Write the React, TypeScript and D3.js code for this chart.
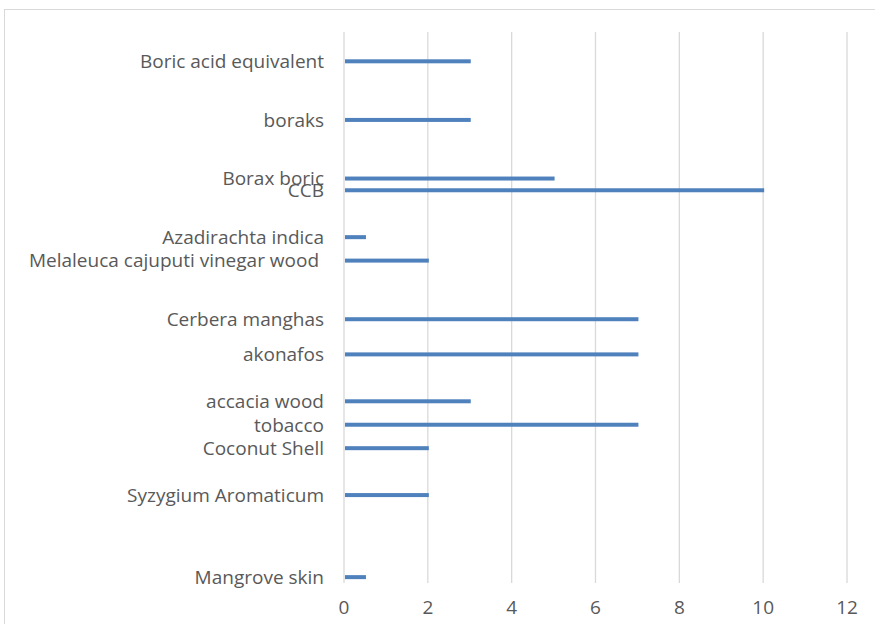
import React from "react";
import * as d3 from "d3";

// Categories top to bottom (blank slots are empty category rows)
const categories: string[] = [
  "", "", "Boric acid equivalent", "", "", "", "", "boraks", "", "", "", "",
  "Borax boric", "CCB", "", "", "", "Azadirachta indica", "", "Melaleuca cajuputi vinegar wood ",
  "", "", "", "", "Cerbera manghas", "", "", "akonafos", "", "", "",
  "accacia wood", "", "tobacco", "", "Coconut Shell", "", "", "", "Syzygium Aromaticum",
  "", "", "", "", "", "", "Mangrove skin",
];
const values: (number | null)[] = [
  null, null, 3, null, null, null, null, 3, null, null, null, null,
  5, 10, null, null, null, 0.5, null, 2,
  null, null, null, null, 7, null, null, 7, null, null, null,
  3, null, 7, null, 2, null, null, null, 2,
  null, null, null, null, null, null, 0.5,
];
const xTicks: number[] = [0, 2, 4, 6, 8, 10, 12];

const W = 875;
const H = 624;
const plot = { left: 344, right: 847, top: 32, bottom: 583 };
const FONT = "'Open Sans', 'Liberation Sans', Arial, sans-serif";
const FS = 19;

export default function App() {
  const x = d3.scaleLinear().domain([0, 12]).range([plot.left, plot.right]);
  const y = d3
    .scaleBand<number>()
    .domain(categories.map((_, i) => i))
    .range([plot.top, plot.bottom]);
  const barH = 4;

  return (
    <svg
      width={W}
      height={H}
      style={{ position: "absolute", left: 0, top: 0, background: "#fff" }}
      fontFamily={FONT}
    >
      <rect x={4.5} y={9.5} width={W + 10} height={H + 10} fill="#fff" stroke="#d9d9d9" strokeWidth={1} />
      {xTicks.map((t) => (
        <line
          key={t}
          x1={x(t)}
          x2={x(t)}
          y1={plot.top}
          y2={plot.bottom}
          stroke="#d9d9d9"
          strokeWidth={1.3}
        />
      ))}
      {categories.map((c, i) => {
        const v = values[i];
        const cy = (y(i) as number) + y.bandwidth() / 2;
        return (
          <g key={i}>
            {v != null && (
              <rect x={x(0) + 1} y={cy - barH / 2} width={x(v) - x(0)} height={barH} fill="#4f81bd" />
            )}
            {c && (
              <text
                x={324}
                y={cy}
                dy="0.36em"
                textAnchor="end"
                fontSize={FS}
                fill="#595959"
                style={{ whiteSpace: "pre" }}
              >
                {c}
              </text>
            )}
          </g>
        );
      })}
      {xTicks.map((t) => (
        <text key={t} x={x(t)} y={607} dy="0.36em" textAnchor="middle" fontSize={FS} fill="#595959">
          {t}
        </text>
      ))}
    </svg>
  );
}
